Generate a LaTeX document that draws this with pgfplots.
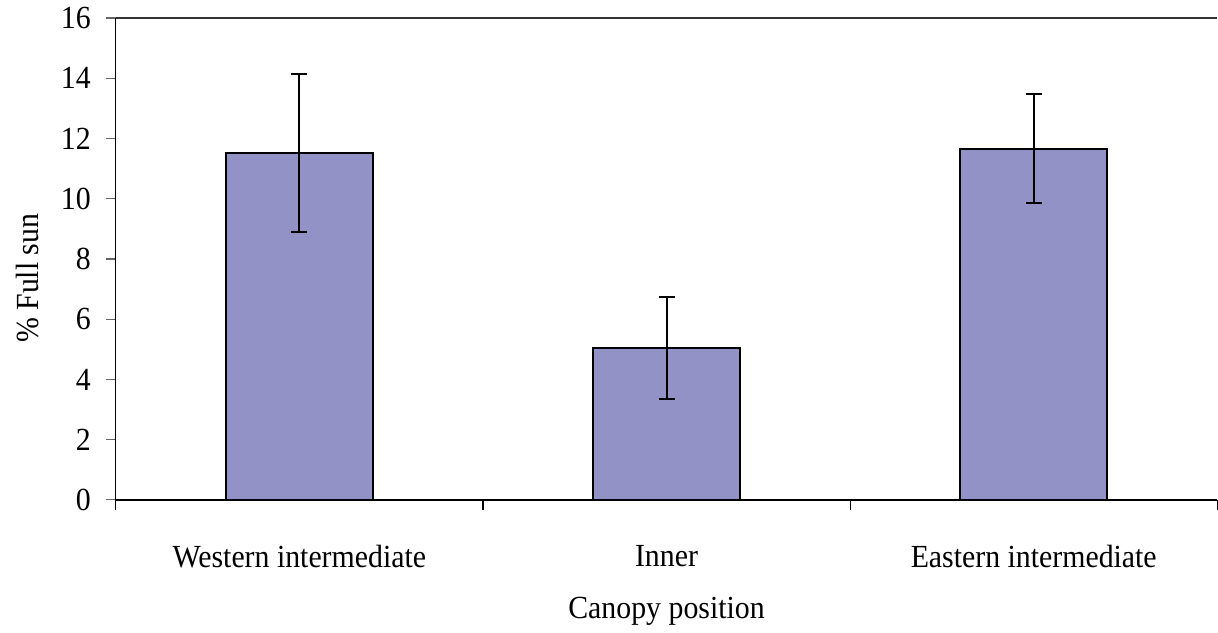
\documentclass[border=0pt]{standalone}
\usepackage{fontspec}
\setmainfont{Liberation Serif}
\usepackage{pgfplots}
\pgfplotsset{compat=1.18}
\definecolor{barfill}{RGB}{146,146,198}

\pgfplotstableread{
x y e
0 11.53 2.62
1 5.05 1.69
2 11.66 1.80
}\sundata

\begin{document}
\begin{tikzpicture}
\begin{axis}[
    scale only axis,
    width=552bp, height=241.5bp,
    at={(0,0)}, anchor=south west,
    font=\fontsize{15}{18}\selectfont,
    /pgf/number format/assume math mode=true,
    xmin=-0.5, xmax=2.5,
    ymin=0, ymax=16,
    ytick={0,2,...,16},
    xtick={0,1,2},
    xticklabels={Western intermediate, Inner, Eastern intermediate},
    minor xtick={-0.5,0.5,1.5,2.5},
    major x tick style={draw=none},
    minor x tick style={black, line width=0.6bp},
    minor tick length=5bp,
    major tick length=5bp,
    y tick style={black!60, line width=0.6bp},
    tick align=outside,
    xticklabel style={yshift=-14bp, yscale=1.08},
    yticklabel style={xshift=-4bp, yscale=1.08},
    axis x line*=bottom,
    axis y line*=left,
    axis line style={line width=0.7bp, -},
    xlabel={Canopy position},
    ylabel={\% Full sun},
    xlabel style={at={(axis description cs:0.5,-0.232)}, anchor=center, yscale=1.08},
    ylabel style={at={(axis description cs:-0.0797,0.46)}, anchor=center, yscale=1.08},
    after end axis/.code={
        \draw[line width=0.7bp, black!80] (rel axis cs:0,1) -- (rel axis cs:1,1);
    },
    clip=false,
]
\addplot[
    ybar, bar width=73.75bp,
    fill=barfill, draw=black, line width=1bp,
    error bars/.cd, y dir=both, y explicit,
    error bar style={black, line width=1bp},
    error mark options={black, line width=1bp, mark size=4bp, rotate=90},
] table[x=x, y=y, y error=e] {\sundata};
\end{axis}
\useasboundingbox (-58bp,-65bp) rectangle (551bp,249.5bp);
\end{tikzpicture}
\end{document}
